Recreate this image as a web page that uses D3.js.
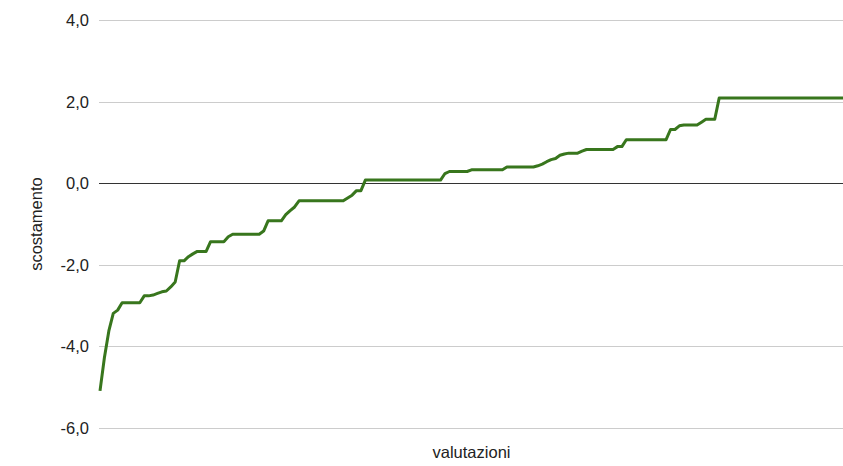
<!DOCTYPE html>
<html>
<head>
<meta charset="utf-8">
<script src="https://cdn.jsdelivr.net/npm/d3@7"></script>
<style>
  html, body { margin: 0; padding: 0; background: #fff; }
  svg { display: block; }
</style>
</head>
<body>
<svg id="chart" width="843" height="466"></svg>
<script>
// Rank of each evaluation (sorted) where the line changes direction
const rank = [0,1,2,3,4,5,9,10,11,12,13,14,15,16,17,18,19,20,21,22,24,25,28,29,30,36,37,38,41,42,43,44,45,55,56,57,58,59,60,77,78,79,83,84,91,92,98,99,100,101,102,103,104,105,106,108,109,110,116,117,118,119,128,129,130,131,132,135,136,137,139,140,168];
// Deviation (scostamento) at each of those ranks
const scostamento = [-5.09,-4.27,-3.62,-3.19,-3.11,-2.93,-2.93,-2.76,-2.76,-2.74,-2.70,-2.66,-2.64,-2.54,-2.42,-1.90,-1.90,-1.80,-1.73,-1.67,-1.67,-1.43,-1.43,-1.31,-1.25,-1.25,-1.17,-0.92,-0.92,-0.77,-0.67,-0.58,-0.43,-0.43,-0.36,-0.29,-0.18,-0.18,0.08,0.08,0.24,0.29,0.29,0.33,0.33,0.40,0.40,0.43,0.47,0.53,0.58,0.61,0.69,0.72,0.74,0.74,0.79,0.83,0.83,0.90,0.90,1.07,1.07,1.32,1.32,1.41,1.43,1.43,1.50,1.57,1.57,2.09,2.09];
const yTicks = [-6, -4, -2, 0, 2, 4];
const yTickLabels = ["-6,0", "-4,0", "-2,0", "0,0", "2,0", "4,0"];
const xTitle = "valutazioni";
const yTitle = "scostamento";

(function () {
const svg = d3.select("#chart");
const pLeft = 100, pRight = 843, pTop = 20.2, pBottom = 428;

const x = d3.scaleLinear().domain([0, 168]).range([pLeft, pRight]);
const y = d3.scaleLinear().domain([-6, 4]).range([pBottom, pTop]);

const fontFamily = "Arial, 'Liberation Sans', sans-serif";

const yAxis = d3.axisLeft(y)
  .tickValues(yTicks)
  .tickSize(-(pRight - pLeft + 1))
  .tickPadding(10)
  .tickFormat((d, i) => yTickLabels[i]);

const g = svg.append("g")
  .attr("transform", `translate(${pLeft - 1},0)`)
  .call(yAxis);
g.select(".domain").remove();
g.selectAll(".tick line")
  .attr("stroke", d => d === 0 ? "#333333" : "#cccccc")
  .attr("stroke-width", 1)
  .attr("shape-rendering", "crispEdges");
g.selectAll(".tick text")
  .attr("fill", "#222222")
  .style("font-family", fontFamily)
  .style("font-size", "16.5px")
  .attr("x", -10);

const data = rank.map((r, i) => ({ r, v: scostamento[i] }));
const line = d3.line().x(d => x(d.r)).y(d => y(d.v));

svg.append("path")
  .datum(data)
  .attr("d", line)
  .attr("fill", "none")
  .attr("stroke", "#38761d")
  .attr("stroke-width", 3)
  .attr("stroke-linejoin", "round")
  .attr("stroke-linecap", "butt");

svg.append("text")
  .attr("x", (pLeft + pRight) / 2)
  .attr("y", 458)
  .attr("text-anchor", "middle")
  .attr("fill", "#222222")
  .style("font-family", fontFamily)
  .style("font-size", "16.5px")
  .text(xTitle);

svg.append("text")
  .attr("transform", `translate(42,${(pTop + pBottom) / 2}) rotate(-90)`)
  .attr("text-anchor", "middle")
  .attr("fill", "#222222")
  .style("font-family", fontFamily)
  .style("font-size", "16.5px")
  .text(yTitle);
})();
</script>
</body>
</html>
